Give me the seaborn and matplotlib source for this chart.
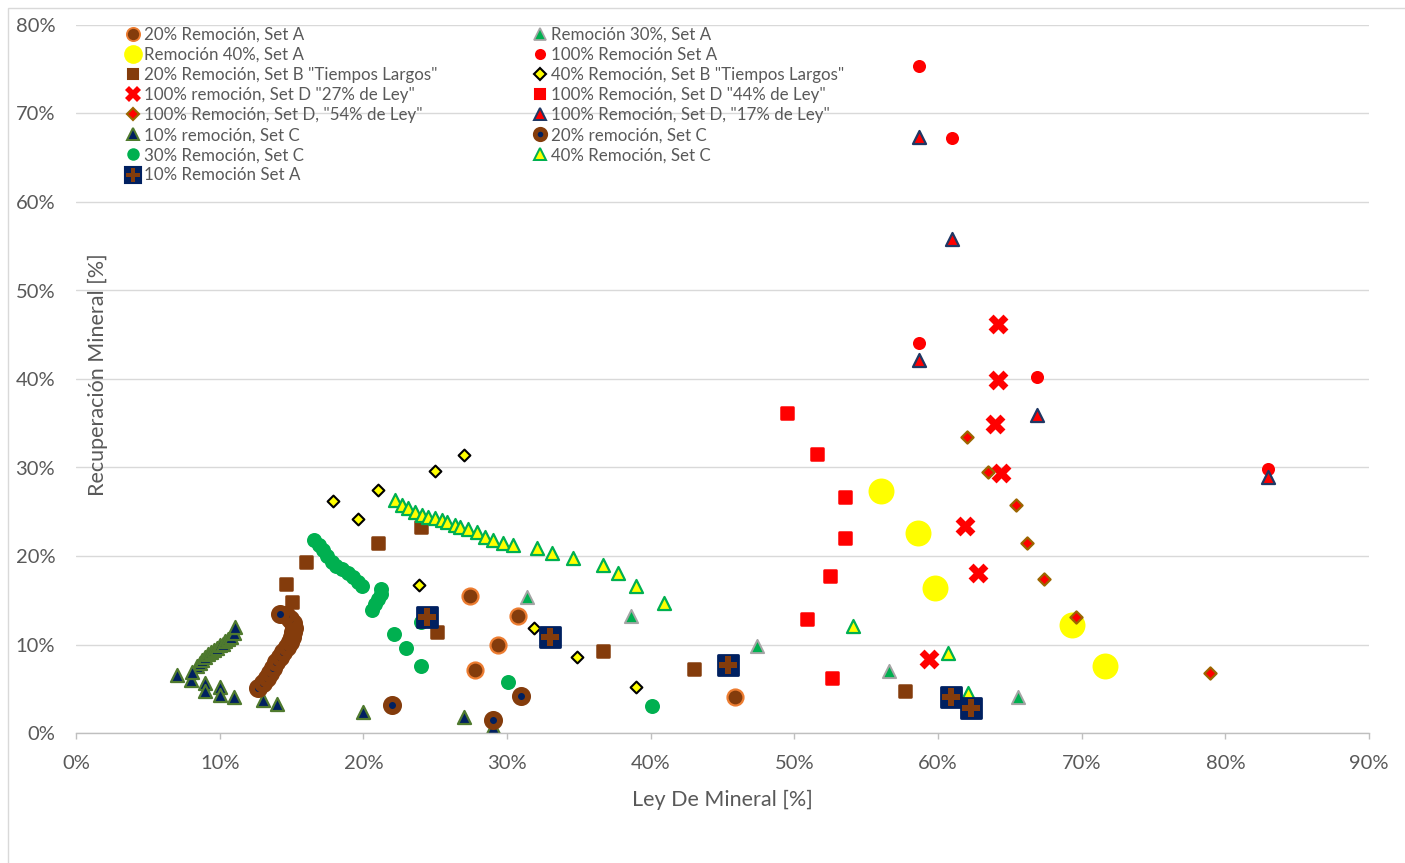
import matplotlib
matplotlib.use("Agg")
import matplotlib.pyplot as plt
from matplotlib.lines import Line2D
from matplotlib.patches import Rectangle
from matplotlib.legend_handler import HandlerTuple
from matplotlib.ticker import FuncFormatter, MultipleLocator
import seaborn as sns

# Ley de mineral (x, %) y recuperación mineral (y, %) por ensayo
rem20_setA_ley = [27.4, 30.8, 29.4, 27.8, 45.9]
rem20_setA_rec = [15.5, 13.2, 9.9, 7.1, 4.1]

rem30_setA_ley = [31.4, 38.6, 47.4, 56.6, 65.6]
rem30_setA_rec = [15.4, 13.2, 9.8, 7.0, 4.1]

rem40_setA_ley = [56.0, 58.6, 59.8, 69.3, 71.6]
rem40_setA_rec = [27.4, 22.6, 16.4, 12.2, 7.6]

rem100_setA_ley = [58.7, 61.0, 58.7, 66.9, 83.0]
rem100_setA_rec = [75.4, 67.2, 44.1, 40.2, 29.8]

rem20_setB_ley = [14.6, 15.0, 16.0, 21.0, 24.0, 25.1, 36.7, 43.0, 57.7]
rem20_setB_rec = [16.8, 14.8, 19.3, 21.5, 23.3, 11.4, 9.3, 7.2, 4.7]

rem40_setB_ley = [17.9, 19.6, 21.0, 25.0, 27.0, 23.9, 31.9, 34.9, 39.0]
rem40_setB_rec = [26.2, 24.2, 27.5, 29.6, 31.4, 16.7, 11.9, 8.6, 5.2]

setD27_ley = [64.2, 64.2, 64.0, 64.4, 61.9, 62.8, 59.4]
setD27_rec = [46.2, 39.9, 34.9, 29.4, 23.4, 18.1, 8.4]

setD44_ley = [49.5, 51.6, 53.5, 53.5, 52.5, 50.9, 52.6]
setD44_rec = [36.2, 31.5, 26.7, 22.0, 17.7, 12.9, 6.2]

setD54_ley = [62.0, 63.5, 65.4, 66.2, 67.4, 69.6, 78.9]
setD54_rec = [33.5, 29.5, 25.8, 21.5, 17.4, 13.1, 6.8]

setD17_ley = [58.7, 61.0, 58.7, 66.9, 83.0]
setD17_rec = [67.3, 55.8, 42.1, 35.9, 28.9]

rem10_setC_ley = [8.4, 8.6, 8.8, 9.0, 9.2, 9.4, 9.6, 9.8, 10.0, 10.2, 10.4, 10.6,
                  10.8, 11.0, 11.1, 7.0, 8.0, 8.1, 9.0, 9.0, 10.0, 10.0, 11.0,
                  13.0, 14.0, 20.0, 27.0, 29.0]
rem10_setC_rec = [7.6, 7.9, 8.3, 8.6, 8.9, 9.1, 9.4, 9.6, 9.9, 10.1, 10.4, 10.6,
                  10.9, 11.3, 12.0, 6.6, 6.0, 6.9, 5.6, 4.7, 5.2, 4.3, 4.1,
                  3.7, 3.3, 2.4, 1.8, 0.7]

rem20_setC_ley = [12.7, 13.0, 13.3, 13.5, 13.7, 13.9, 14.2, 14.4, 14.7, 14.9, 15.0,
                  15.1, 15.2, 15.1, 14.9, 14.6, 14.2, 22.0, 31.0, 29.0]
rem20_setC_rec = [5.1, 5.6, 6.2, 6.8, 7.4, 8.0, 8.6, 9.1, 9.7, 10.3, 10.8,
                  11.4, 11.9, 12.4, 12.9, 13.3, 13.5, 3.2, 4.2, 1.5]

rem30_setC_ley = [16.6, 16.9, 17.2, 17.5, 17.8, 18.1, 18.5, 18.9, 19.3, 19.6, 19.9,
                  21.2, 21.2, 21.0, 20.8, 20.6, 22.1, 23.0, 24.0, 24.0, 30.1, 40.1]
rem30_setC_rec = [21.8, 21.2, 20.7, 20.0, 19.3, 18.9, 18.5, 18.1, 17.6, 17.1, 16.6,
                  16.3, 15.7, 15.1, 14.6, 13.9, 11.2, 9.6, 7.6, 12.5, 5.8, 3.0]

rem40_setC_ley = [22.2, 22.7, 23.1, 23.6, 24.1, 24.5, 25.0, 25.5, 25.8, 26.4, 26.7,
                  27.3, 27.9, 28.5, 29.0, 29.7, 30.4, 32.1, 33.1, 34.6, 36.7, 37.7,
                  39.0, 40.9, 54.1, 60.7, 62.1]
rem40_setC_rec = [26.3, 25.8, 25.4, 25.0, 24.6, 24.4, 24.3, 24.1, 23.8, 23.5, 23.3,
                  23.1, 22.7, 22.1, 21.8, 21.5, 21.2, 20.9, 20.3, 19.8, 19.0, 18.1,
                  16.6, 14.7, 12.1, 9.0, 4.5]

rem10_setA_ley = [24.4, 33.0, 45.4, 60.9, 62.3]
rem10_setA_rec = [13.1, 10.9, 7.7, 4.1, 2.8]

etiquetas = [
    "20% Remoción, Set A",
    "Remoción 30%, Set A",
    "Remoción 40%, Set A",
    "100% Remoción Set A",
    '20% Remoción, Set B "Tiempos Largos"',
    '40% Remoción, Set B "Tiempos Largos"',
    '100% remoción, Set D "27% de Ley"',
    '100% Remoción, Set D "44% de Ley"',
    '100% Remoción, Set D, "54% de Ley"',
    '100% Remoción, Set D, "17% de Ley"',
    "10% remoción, Set C",
    "20% remoción, Set C",
    "30% Remoción, Set C",
    "40% Remoción, Set C",
    "10% Remoción Set A",
]

# Estilo de cada serie: (marcador, tamaño, relleno, borde, ancho de borde, tamaño en leyenda)
estilos = [
    ("o", 11.5, "#843C0C", "#ED7D31", 1.6, 9.5),
    ("^", 9.5, "#00B050", "#A5A5A5", 1.4, 8.5),
    ("o", 18.7, "#FFFF00", "#FFFF00", 0.0, 13.5),
    ("o", 9.4, "#FF0000", "#FF0000", 0.0, 8.0),
    ("s", 8.2, "#843C0C", "#843C0C", 1.8, 6.8),
    ("D", 6.0, "#FFFF00", "#000000", 1.5, 6.0),
    ("X", 14.3, "#FF0000", "#FF0000", 0.0, 11.0),
    ("s", 8.2, "#FF0000", "#FF0000", 1.8, 6.8),
    ("D", 6.2, "#FF0000", "#9C6500", 1.6, 6.0),
    ("^", 9.4, "#FF0000", "#203864", 1.6, 8.5),
    ("^", 9.4, "#002060", "#4F7A2E", 1.6, 8.5),
    ("o", 9.4, "#002060", "#843C0C", 4.3, 7.5),
    ("o", 10.8, "#00B050", "#00B050", 0.0, 9.0),
    ("^", 9.4, "#FFFF00", "#00B050", 1.6, 8.5),
    ("s", 14.5, "#002060", "#002060", 2.0, 11.0),
]

series = [
    (rem20_setA_ley, rem20_setA_rec),
    (rem30_setA_ley, rem30_setA_rec),
    (rem40_setA_ley, rem40_setA_rec),
    (rem100_setA_ley, rem100_setA_rec),
    (rem20_setB_ley, rem20_setB_rec),
    (rem40_setB_ley, rem40_setB_rec),
    (setD27_ley, setD27_rec),
    (setD44_ley, setD44_rec),
    (setD54_ley, setD54_rec),
    (setD17_ley, setD17_rec),
    (rem10_setC_ley, rem10_setC_rec),
    (rem20_setC_ley, rem20_setC_rec),
    (rem30_setC_ley, rem30_setC_rec),
    (rem40_setC_ley, rem40_setC_rec),
    (rem10_setA_ley, rem10_setA_rec),
]

sns.set_theme(style="white")
plt.rcParams["font.family"] = ["Lato", "DejaVu Sans"]
gris_texto = "#595959"

W, H = 1405, 863
fig = plt.figure(figsize=(W / 100, H / 100), dpi=100)
ax = fig.add_axes([76 / W, 1 - 733 / H, (1369 - 76) / W, (733 - 25) / H])

handles = []
for (xs, ys), (m, ms, fc, ec, lw, lms) in zip(series, estilos):
    sns.scatterplot(x=xs, y=ys, marker=m, s=ms ** 2, color=fc, edgecolor=ec,
                    linewidth=lw, ax=ax, legend=False)
    if m == "s":
        # esquinas redondeadas en los marcadores cuadrados
        ax.collections[-1].set_joinstyle("round")
    h = Line2D([], [], ls="none", marker=m, markersize=lms,
               markerfacecolor=fc, markeredgecolor=ec,
               markeredgewidth=lw * lms / ms if ms else lw)
    handles.append(h)

# Cruz marrón sobre el cuadrado azul de "10% Remoción Set A"
sns.scatterplot(x=rem10_setA_ley, y=rem10_setA_rec, marker="P", s=12.5 ** 2,
                color="#843C0C", edgecolor="#843C0C", linewidth=0, ax=ax,
                legend=False)
handles[-1] = (handles[-1], Line2D([], [], ls="none", marker="P", markersize=9.5,
                                   markerfacecolor="#843C0C",
                                   markeredgewidth=0))

ax.set_xlim(0, 90)
ax.set_ylim(0, 80)
ax.xaxis.set_major_locator(MultipleLocator(10))
ax.yaxis.set_major_locator(MultipleLocator(10))
pct = FuncFormatter(lambda v, _: f"{v:.0f}%")
ax.xaxis.set_major_formatter(pct)
ax.yaxis.set_major_formatter(pct)

ax.yaxis.grid(True, color="#D9D9D9", lw=1)
ax.set_axisbelow(True)
for lado in ("top", "right", "left"):
    ax.spines[lado].set_visible(False)
ax.spines["bottom"].set_color("#BFBFBF")
ax.spines["bottom"].set_linewidth(1)
ax.tick_params(axis="x", direction="out", length=4, width=1, color="#BFBFBF",
               pad=12, labelsize=14.5, labelcolor=gris_texto, bottom=True)
ax.tick_params(axis="y", length=0, pad=15, labelsize=14.5, labelcolor=gris_texto)

fig.text(722 / W, 1 - 800 / H, "Ley De Mineral [%]", ha="center", va="center",
         fontsize=15.5, color=gris_texto)
fig.text(98 / W, 1 - 375 / H, "Recuperación Mineral [%]", ha="center",
         va="center", rotation=90, fontsize=15.5, color=gris_texto)

# Leyenda en dos columnas (entradas pares a la izquierda, impares a la derecha)
opts = dict(loc="upper left", frameon=False, fontsize=12.2, handlelength=0.85,
            handletextpad=0.2, labelspacing=0.24, borderpad=0,
            borderaxespad=0, labelcolor=gris_texto,
            handler_map={tuple: HandlerTuple(ndivide=1)})
izq = list(range(0, 15, 2))
der = list(range(1, 15, 2))
leg1 = ax.legend([handles[i] for i in izq], [etiquetas[i] for i in izq],
                 bbox_to_anchor=(126 / W, 1 - 27 / H),
                 bbox_transform=fig.transFigure, **opts)
ax.add_artist(leg1)
ax.legend([handles[i] for i in der], [etiquetas[i] for i in der],
          bbox_to_anchor=(533 / W, 1 - 27 / H),
          bbox_transform=fig.transFigure, **opts)

# Borde del área del gráfico
fig.add_artist(Rectangle((8 / W, -0.05), 1.1, 1 - 8 / H + 0.05,
                         transform=fig.transFigure, fill=False,
                         edgecolor="#D9D9D9", lw=1))

fig.savefig("out.png", dpi=100)
